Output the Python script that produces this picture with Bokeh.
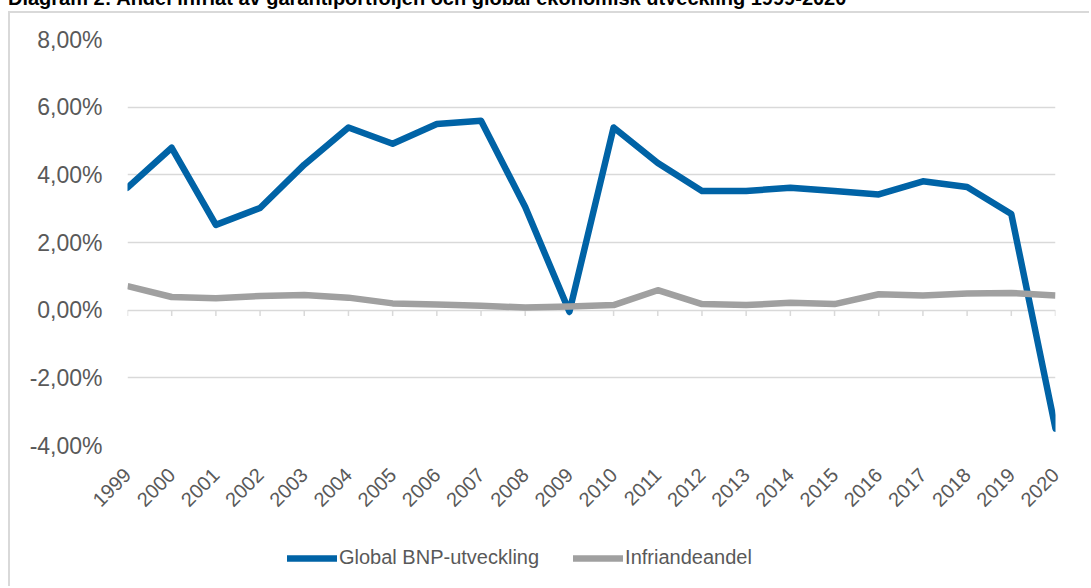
import math
from bokeh.plotting import figure
from bokeh.models import Range1d, FixedTicker, Legend, LegendItem, Div
from bokeh.layouts import column
from bokeh.embed import file_html
from bokeh.resources import INLINE

title_text = "Diagram 2: Andel infriat av garantiportföljen och global ekonomisk utveckling 1999-2020"
years = list(range(1999, 2021))
gdp = [3.62, 4.8, 2.52, 3.02, 4.3, 5.4, 4.92, 5.5, 5.6, 3.05, -0.05, 5.4, 4.35,
       3.52, 3.52, 3.62, 3.52, 3.42, 3.81, 3.64, 2.84, -3.5]
infri = [0.71, 0.39, 0.35, 0.42, 0.45, 0.37, 0.20, 0.17, 0.13, 0.08, 0.11, 0.15,
         0.59, 0.18, 0.15, 0.22, 0.18, 0.47, 0.43, 0.49, 0.51, 0.43]
y_ticks = [-4, -2, 0, 2, 4, 6, 8]
y_labels = ["-4,00%", "-2,00%", "0,00%", "2,00%", "4,00%", "6,00%", "8,00%"]
series_names = ["Global BNP-utveckling", "Infriandeandel"]
series_colors = ["#0063a6", "#a0a0a0"]

FONT = "Liberation Sans"
TXT = "#595959"
BORDER = "2px solid #d9d9d9"
LW = 6.5

p = figure(width=1081, height=517, output_backend="svg", toolbar_location=None,
           x_range=Range1d(years[0], years[-1]), y_range=Range1d(-4, 8),
           min_border_left=117, min_border_right=36, min_border_top=26,
           min_border_bottom=85, margin=(1, 0, 0, 8))
p.styles = {"border-left": BORDER, "border-top": BORDER}
p.outline_line_color = None
p.background_fill_color = "white"
p.border_fill_color = "white"

p.xgrid.grid_line_color = None
p.ygrid.grid_line_color = "#d9d9d9"
p.ygrid.grid_line_width = 1.3
p.ygrid.ticker = FixedTicker(ticks=y_ticks)

p.yaxis.ticker = FixedTicker(ticks=y_ticks)
p.yaxis.major_label_overrides = {t: l for t, l in zip(y_ticks, y_labels)}
p.yaxis.axis_line_color = None
p.yaxis.major_tick_line_color = None
p.yaxis.minor_tick_line_color = None
p.yaxis.major_label_text_font = FONT
p.yaxis.major_label_text_font_size = "23px"
p.yaxis.major_label_text_color = TXT
p.yaxis.major_label_standoff = 19

p.xaxis.ticker = FixedTicker(ticks=years)
p.xaxis.major_label_overrides = {y: str(y) for y in years}
p.xaxis.axis_line_color = None
p.xaxis.major_tick_line_color = None
p.xaxis.minor_tick_line_color = None
p.xaxis.major_label_orientation = math.pi / 4
p.xaxis.major_label_text_font = FONT
p.xaxis.major_label_text_font_size = "20px"
p.xaxis.major_label_text_color = TXT
p.xaxis.major_label_standoff = 20

# category tick marks on the zero line
p.segment(x0=years, y0=[0] * len(years), x1=years, y1=[-0.17] * len(years),
          line_color="#d9d9d9", line_width=1.5)

r1 = p.line(years, gdp, line_color=series_colors[0], line_width=LW,
            line_join="round", line_cap="round")
r2 = p.line(years, infri, line_color=series_colors[1], line_width=LW,
            line_join="round", line_cap="butt")

# legend strip below the plot (its frame is aligned with the main frame)
lg = figure(width=1081, height=58, output_backend="svg", toolbar_location=None,
            x_range=Range1d(0, 1), y_range=Range1d(0, 1),
            x_axis_location=None, y_axis_location=None,
            min_border_left=117, min_border_right=36, min_border_top=0,
            min_border_bottom=0, margin=(0, 0, 0, 8))
lg.styles = {"border-left": BORDER}
lg.grid.visible = False
lg.outline_line_color = None
lg.background_fill_color = "white"
lg.border_fill_color = "white"
# proxy renderers for the legend keys (their data lie outside this strip's ranges)
l1 = lg.line(years, gdp, line_color=series_colors[0], line_width=LW, line_cap="round")
l2 = lg.line(years, infri, line_color=series_colors[1], line_width=LW, line_cap="round")

legend = Legend(items=[LegendItem(label=series_names[0], renderers=[l1]),
                       LegendItem(label=series_names[1], renderers=[l2])],
                location=(160, 17), orientation="horizontal",
                label_text_font=FONT, label_text_font_size="20px",
                label_text_color=TXT, glyph_width=50, glyph_height=20,
                label_height=20, label_standoff=2, spacing=34, padding=0,
                margin=0, border_line_color=None, background_fill_alpha=0)
lg.add_layout(legend, "center")

title = Div(text=title_text, margin=(-13, 0, 0, 8),
            styles={"font-family": FONT, "font-weight": "bold", "font-size": "20px",
                    "color": "black", "white-space": "nowrap", "line-height": "23px"})

layout = column(title, p, lg, spacing=0)
open("out.html", "w").write(file_html(layout, INLINE))
